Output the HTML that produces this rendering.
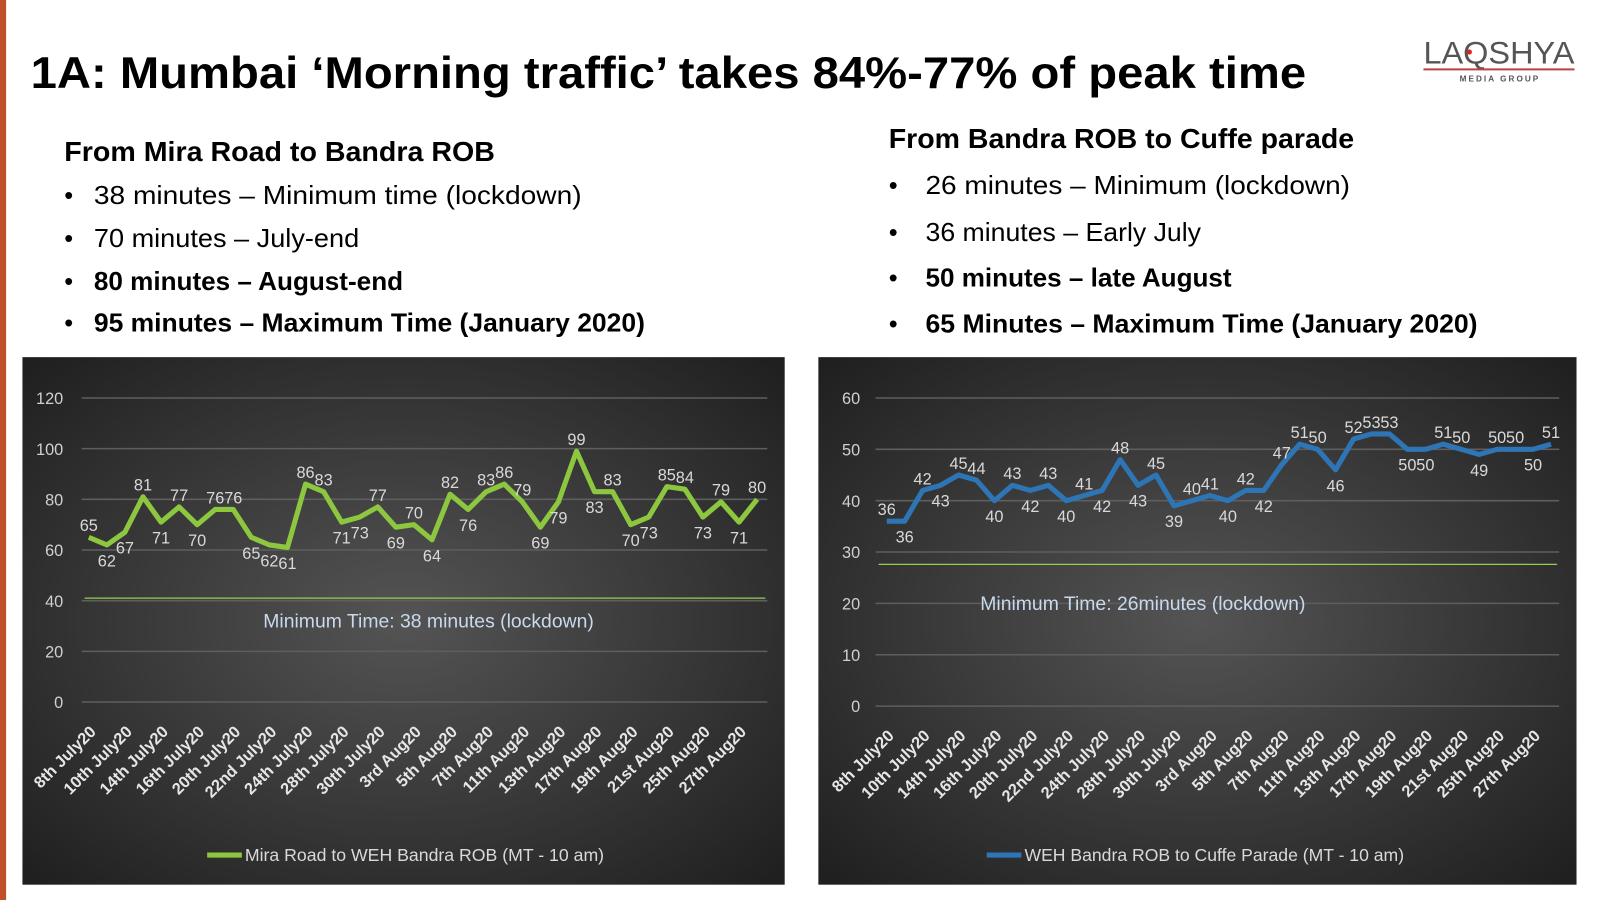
<!DOCTYPE html>
<html><head><meta charset="utf-8"><style>
html,body{margin:0;padding:0;background:#fff;}
svg{display:block;font-family:"Liberation Sans",sans-serif;}
</style></head><body>
<svg id="page" width="1600" height="900" viewBox="0 0 1600 900">
<defs>
<radialGradient id="bg" cx="50%" cy="50%" r="70%">
<stop offset="0" stop-color="#545454"/><stop offset="1" stop-color="#1f1f1f"/>
</radialGradient>
</defs>
<g transform="scale(1.0204)">
<rect x="0" y="0" width="6" height="900" fill="#c0502a"/>
<text x="30" y="86" font-size="44" font-weight="bold" fill="#000" textLength="1250" lengthAdjust="spacingAndGlyphs">1A: Mumbai ‘Morning traffic’ takes 84%-77% of peak time</text>
<g>
<text x="1395" y="62" font-size="31" fill="#555" textLength="148" lengthAdjust="spacingAndGlyphs">LAQSHYA</text>
<circle cx="1440" cy="51" r="2.5" fill="#d22"/>
<rect x="1395" y="67" width="148" height="2" fill="#b44"/>
<text x="1470" y="80" font-size="8" font-weight="bold" fill="#555" text-anchor="middle" letter-spacing="2">MEDIA GROUP</text>
</g>
<g>
<text x="63" y="158" font-size="27" font-weight="bold" textLength="422" lengthAdjust="spacingAndGlyphs">From Mira Road to Bandra ROB</text>
<g font-size="25">
<text x="63" y="200">•</text><text x="92" y="200" textLength="478" lengthAdjust="spacingAndGlyphs">38 minutes – Minimum time (lockdown)</text>
<text x="63" y="242">•</text><text x="92" y="242" textLength="260" lengthAdjust="spacingAndGlyphs">70 minutes – July-end</text>
<text x="63" y="284">•</text><text x="92" y="284" font-weight="bold" textLength="303" lengthAdjust="spacingAndGlyphs">80 minutes – August-end</text>
<text x="63" y="325">•</text><text x="92" y="325" font-weight="bold" textLength="540" lengthAdjust="spacingAndGlyphs">95 minutes – Maximum Time (January 2020)</text>
</g></g>
<g>
<text x="871" y="145" font-size="27" font-weight="bold" textLength="456" lengthAdjust="spacingAndGlyphs">From Bandra ROB to Cuffe parade</text>
<g font-size="25">
<text x="871" y="190">•</text><text x="907" y="190" textLength="416" lengthAdjust="spacingAndGlyphs">26 minutes – Minimum (lockdown)</text>
<text x="871" y="236">•</text><text x="907" y="236" textLength="270" lengthAdjust="spacingAndGlyphs">36 minutes – Early July</text>
<text x="871" y="281">•</text><text x="907" y="281" font-weight="bold" textLength="300" lengthAdjust="spacingAndGlyphs">50 minutes – late August</text>
<text x="871" y="326">•</text><text x="907" y="326" font-weight="bold" textLength="541" lengthAdjust="spacingAndGlyphs">65 Minutes – Maximum Time (January 2020)</text>
</g></g>
<g id="chartL"></g>
<g id="chartR"></g>
</g>
</svg>
<script>
const dates = ["8th July20","9th July20","10th July20","13th July20","14th July20","15th July20","16th July20","17th July20","20th July20","21st July20","22nd July20","23rd July20","24th July20","27th July20","28th July20","29th July20","30th July20","31st July20","3rd Aug20","4th Aug20","5th Aug20","6th Aug20","7th Aug20","10th Aug20","11th Aug20","12th Aug20","13th Aug20","14th Aug20","17th Aug20","18th Aug20","19th Aug20","20th Aug20","21st Aug20","24th Aug20","25th Aug20","26th Aug20","27th Aug20","28th Aug20"];
const miraValues = [65,62,67,81,71,77,70,76,76,65,62,61,86,83,71,73,77,69,70,64,82,76,83,86,79,69,79,99,83,83,70,73,85,84,73,79,71,80];
const bandraValues = [36,36,42,43,45,44,40,43,42,43,40,41,42,48,43,45,39,40,41,40,42,42,47,51,50,46,52,53,53,50,50,51,50,49,50,50,50,51];
const leftTicks = [0,20,40,60,80,100,120];
const rightTicks = [0,10,20,30,40,50,60];
const leftMin = [41];
const rightMin = [27.6];
const NS="http://www.w3.org/2000/svg";
function mk(tag,attrs,parent,txt){const e=document.createElementNS(NS,tag);for(const k in attrs)e.setAttribute(k,attrs[k]);if(txt!==undefined)e.textContent=txt;parent.appendChild(e);return e;}
function drawChart(g,cfg){
  mk('rect',{x:cfg.px,y:350,width:cfg.pw,height:517,fill:'url(#bg)'},g);
  const yS=v=>cfg.y0-(v-cfg.ymin)/(cfg.ymax-cfg.ymin)*(cfg.y0-cfg.y1);
  const xS=i=>cfg.x0+i*(cfg.x1-cfg.x0)/(cfg.vals.length-1);
  cfg.ticks.forEach(t=>{
    const l=mk('line',{x1:cfg.gx0,x2:cfg.gx1,y1:yS(t),y2:yS(t),stroke:'#5e5e5e','stroke-width':1.5},g);
    
    
    const tx=mk('text',{x:cfg.tx,y:yS(t)+6,'font-size':16,fill:'#d0d0d0','text-anchor':'end'},g,String(t));
    
    
  });
  const ml=mk('line',{x1:cfg.gx0+3,x2:cfg.gx1-2,y1:yS(cfg.minv[0]),y2:yS(cfg.minv[0]),stroke:'#92d050','stroke-width':1.3},g);
  
  
  const mt=mk('text',{x:cfg.mtx,y:cfg.mty,'font-size':19,fill:'#c9d9ee','text-anchor':'middle'},g,cfg.mtext);
  
  
  const pts=cfg.vals.map((v,i)=>xS(i)+','+yS(v)).join(' ');
  const pl=mk('polyline',{points:pts,fill:'none',stroke:cfg.color,'stroke-width':5,'stroke-linejoin':'round'},g);
  
  
  cfg.vals.forEach((v,i)=>{
    const p=i>0?cfg.vals[i-1]:v, n=i<cfg.vals.length-1?cfg.vals[i+1]:v;
    const below=v<(p+n)/2;
    const t=mk('text',{x:xS(i),y:below?yS(v)+21:yS(v)-6,'font-size':16,fill:'#d9d9d9','text-anchor':'middle'},g,String(v));
    
    
  });
  dates.forEach((d,i)=>{
    if(i%2) return;
    const x=xS(i)+8,y=cfg.y0+30;
    const t=mk('text',{x:x,y:y,'font-size':16,'font-weight':'bold',fill:'#e6e6e6','text-anchor':'end',transform:`rotate(-45 ${x} ${y})`},g,d);
    
    
  });
  const lg=mk('g',{},g);
  
  
  mk('line',{x1:cfg.lx,x2:cfg.lx+34,y1:838,y2:838,stroke:cfg.color,'stroke-width':5},lg);
  mk('text',{x:cfg.lx+37,y:844,'font-size':17,fill:'#d9d9d9',textLength:cfg.ll,lengthAdjust:'spacingAndGlyphs'},lg,cfg.ltext);
}
drawChart(document.getElementById('chartL'),{px:22,pw:747,vals:miraValues,ticks:leftTicks,minv:leftMin,ymin:0,ymax:120,y0:688,y1:390,x0:87,x1:742,gx0:80,gx1:752,tx:62,color:'#8dc63f',mtx:420,mty:615,mtext:'Minimum Time: 38 minutes (lockdown)',lx:203,ltext:'Mira Road to WEH Bandra ROB (MT - 10 am)',ll:352});
drawChart(document.getElementById('chartR'),{px:802,pw:743,vals:bandraValues,ticks:rightTicks,minv:rightMin,ymin:0,ymax:60,y0:692,y1:390,x0:869,x1:1520,gx0:858,gx1:1528,tx:843,color:'#2e75b6',mtx:1120,mty:598,mtext:'Minimum Time: 26minutes (lockdown)',lx:967,ltext:'WEH Bandra ROB to Cuffe Parade (MT - 10 am)',ll:372});
</script>
</body></html>
